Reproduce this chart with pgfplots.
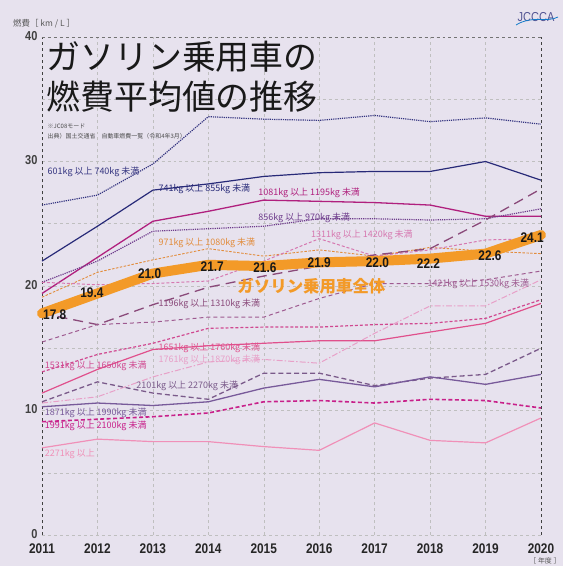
\documentclass[border=0pt]{standalone}
\usepackage{pgfplots}
\pgfplotsset{compat=1.18}
\usepackage{fontspec}
\setmainfont{Liberation Sans}
\newfontfamily\jp{Noto Sans CJK JP}
\newfontfamily\condb{Liberation Sans}[FakeStretch=0.85]
\definecolor{bgc}{RGB}{231,226,238}
\definecolor{navyA}{RGB}{52,52,128}
\definecolor{navyB}{RGB}{40,42,120}
\definecolor{magA}{RGB}{176,32,126}
\definecolor{purA}{RGB}{110,60,140}
\definecolor{orA}{RGB}{226,140,60}
\definecolor{orT}{RGB}{243,154,40}
\definecolor{pinkD}{RGB}{214,120,176}
\definecolor{mauveL}{RGB}{138,74,122}
\definecolor{mauveD}{RGB}{158,90,144}
\definecolor{pinkS}{RGB}{208,72,144}
\definecolor{pinkSol}{RGB}{224,80,140}
\definecolor{pinkDD}{RGB}{232,160,200}
\definecolor{grayP}{RGB}{122,90,138}
\definecolor{purS}{RGB}{120,90,154}
\definecolor{magD}{RGB}{200,32,138}
\definecolor{pinkL}{RGB}{240,144,184}
\pgfplotstableread{
year w601 w741 w1081 w856 w971 all w1311 w1196 w1421 w1531 w1651 w1761 w1871 w2101 w1991 w2271
2011 26.5 22.0 19.4 20.3 19.1 17.8 20.3 17.8 15.5 13.1 11.4 10.6 10.3 10.7 9.1 7.0
2012 27.3 24.8 22.3 22.0 21.1 19.4 20.1 16.9 16.9 14.5 13.3 11.1 10.6 12.3 9.3 7.7
2013 29.8 27.7 25.2 24.4 22.1 21.0 20.2 18.5 17.1 15.4 14.9 12.7 10.4 11.4 9.5 7.5
2014 33.6 28.2 26.0 24.6 23.0 21.7 20.4 19.9 17.5 16.6 15.2 13.9 10.7 10.9 9.8 7.5
2015 33.4 28.8 26.9 24.8 22.4 21.6 22.0 20.8 17.5 16.7 15.4 14.1 11.8 13.0 10.7 7.1
2016 33.3 29.1 26.8 25.4 22.9 21.9 23.8 21.6 19.0 16.7 15.6 13.8 12.5 13.0 10.8 6.8
2017 33.7 29.2 26.7 25.4 22.4 22.0 22.4 22.5 20.2 16.9 15.6 16.2 11.9 12.0 10.6 9.0
2018 33.2 29.2 26.5 25.3 23.1 22.2 22.9 23.0 20.2 17.0 16.3 18.4 12.7 12.6 10.9 7.6
2019 33.5 30.0 25.6 25.4 22.8 22.6 23.7 25.3 20.5 17.4 17.0 18.4 12.1 12.9 10.8 7.4
2020 33.0 28.5 25.6 26.2 22.6 24.1 23.8 27.8 21.2 18.9 18.6 20.5 12.9 15.0 10.2 9.4
}\datatable
\begin{document}
\begin{tikzpicture}
\fill[bgc] (-42bp,-31bp) rectangle (521bp,535bp);
\begin{axis}[
  at={(0,0)}, anchor=south west,
  scale only axis, width=499bp, height=498bp,
  xmin=2011, xmax=2020, ymin=0, ymax=40,
  xtick={2011,2012,...,2020}, ytick={0,10,20,30,40}, minor ytick={5,15,25,35},
  /pgf/number format/1000 sep={},
  /pgf/number format/assume math mode=true,
  xticklabel style={font=\condb\bfseries\fontsize{14}{14}\selectfont, text=black!85, yshift=-5bp},
  yticklabel style={font=\condb\bfseries\fontsize{13}{13}\selectfont, text=black!75, xshift=-1bp, yshift=1bp},
  grid=both,
  major grid style={dashed, draw=gray!50, line width=0.5pt},
  minor grid style={dashed, draw=gray!50, line width=0.5pt},
  major tick length=0pt, minor tick length=0pt,
  axis line style={draw=none},
  clip=false,
]
\draw[dashed, black!75, line width=0.7pt] (axis cs:2011,0) -- (axis cs:2011,40);
\draw[dashed, black!75, line width=0.7pt] (axis cs:2020,0) -- (axis cs:2020,40);
\draw[dashed, black!55, line width=0.6pt] (axis cs:2011,40) -- (axis cs:2020,40);

\addplot[navyA, densely dotted, line width=1.2pt] table[x=year,y=w601] {\datatable};
\addplot[navyB, line width=1.2pt] table[x=year,y=w741] {\datatable};
\addplot[magA, line width=1.3pt] table[x=year,y=w1081] {\datatable};
\addplot[purA, densely dotted, line width=1.2pt] table[x=year,y=w856] {\datatable};
\addplot[orA, dash pattern=on 2.5pt off 1.5pt, line width=0.9pt] table[x=year,y=w971] {\datatable};
\addplot[pinkD, dash pattern=on 3pt off 2pt, line width=1pt] table[x=year,y=w1311] {\datatable};
\addplot[mauveL, dash pattern=on 10pt off 6pt, line width=1.3pt] table[x=year,y=w1196] {\datatable};
\addplot[mauveD, dash pattern=on 4pt off 3pt, line width=1pt] table[x=year,y=w1421] {\datatable};
\addplot[pinkS, dash pattern=on 3pt off 2pt, line width=1.2pt] table[x=year,y=w1531] {\datatable};
\addplot[pinkSol, line width=1.2pt] table[x=year,y=w1651] {\datatable};
\addplot[pinkDD, dash pattern=on 6pt off 2pt on 1.5pt off 2pt, line width=1pt] table[x=year,y=w1761] {\datatable};
\addplot[grayP, dash pattern=on 5pt off 3pt, line width=1.3pt] table[x=year,y=w2101] {\datatable};
\addplot[purS, line width=1.3pt] table[x=year,y=w1871] {\datatable};
\addplot[magD, dash pattern=on 4pt off 2.5pt, line width=1.6pt] table[x=year,y=w1991] {\datatable};
\addplot[pinkL, line width=1.2pt] table[x=year,y=w2271] {\datatable};
\addplot[orT, line width=10bp, line cap=round, line join=round] table[x=year,y=all] {\datatable};

% title
\node[anchor=west, font=\jp\fontsize{34}{34}\selectfont, text=black!90, inner sep=0pt] at (axis cs:2011.08,38.4) {ガソリン乗用車の};
\node[anchor=west, font=\jp\fontsize{34}{34}\selectfont, text=black!90, inner sep=0pt] at (axis cs:2011.08,35.2) {燃費平均値の推移};
\node[anchor=west, font=\jp\fontsize{6}{6}\selectfont, text=black!70, inner sep=0pt] at (axis cs:2011.1,32.8) {※JC08モード};
\node[anchor=west, font=\jp\fontsize{6}{6}\selectfont, text=black!70, inner sep=0pt] at (axis cs:2011.1,32.0) {出典）国土交通省　自動車燃費一覧（令和4年3月）};

% series labels
\begin{scope}[every node/.style={anchor=west, inner sep=0pt, font=\jp\fontsize{9}{9}\selectfont}]
\node[text=navyA] at (axis cs:2011.1,29.2) {601kg 以上 740kg 未満};
\node[text=navyB] at (axis cs:2013.1,27.8) {741kg 以上 855kg 未満};
\node[text=magA] at (axis cs:2014.9,27.5) {1081kg 以上 1195kg 未満};
\node[text=purA] at (axis cs:2014.9,25.5) {856kg 以上 970kg 未満};
\node[text=orA] at (axis cs:2013.1,23.5) {971kg 以上 1080kg 未満};
\node[text=pinkD] at (axis cs:2015.85,24.1) {1311kg 以上 1420kg 未満};
\node[text=mauveL] at (axis cs:2013.1,18.6) {1196kg 以上 1310kg 未満};
\node[text=mauveD] at (axis cs:2017.95,20.2) {1421kg 以上 1530kg 未満};
\node[text=pinkSol] at (axis cs:2013.1,15.0) {1651kg 以上 1760kg 未満};
\node[text=pinkDD] at (axis cs:2013.1,14.1) {1761kg 以上 1870kg 未満};
\node[text=pinkS] at (axis cs:2011.05,13.6) {1531kg 以上 1650kg 未満};
\node[text=grayP] at (axis cs:2012.7,12.0) {2101kg 以上 2270kg 未満};
\node[text=purS] at (axis cs:2011.05,9.8) {1871kg 以上 1990kg 未満};
\node[text=magD] at (axis cs:2011.05,8.75) {1991kg 以上 2100kg 未満};
\node[text=pinkL] at (axis cs:2011.05,6.5) {2271kg 以上};
\end{scope}

% value labels on the overall line
\begin{scope}[every node/.style={inner sep=0pt, font=\condb\bfseries\fontsize{14}{14}\selectfont, text=black!90}]
\node at (axis cs:2011.23,17.67) {17.8};
\node at (axis cs:2011.9,19.44) {19.4};
\node at (axis cs:2012.94,21.0) {21.0};
\node at (axis cs:2014.07,21.53) {21.7};
\node at (axis cs:2015.02,21.45) {21.6};
\node at (axis cs:2016.0,21.85) {21.9};
\node at (axis cs:2017.05,21.85) {22.0};
\node at (axis cs:2017.97,21.77) {22.2};
\node at (axis cs:2019.08,22.4) {22.6};
\node at (axis cs:2019.84,23.9) {24.1};
\end{scope}
\node[inner sep=0pt, font=\jp\bfseries\fontsize{16.5}{16.5}\selectfont, text=orT] at (axis cs:2015.86,20.0) {ガソリン乗用車全体};
\end{axis}
\node[anchor=west, inner sep=0pt, font=\jp\fontsize{8.5}{8.5}\selectfont, text=black!65] at (-29bp,511bp) {燃費［ km / L ］};
\node[inner sep=0pt, font=\jp\fontsize{7}{7}\selectfont, text=black!65] at (503bp,-26bp) {［ 年度 ］};
\node[inner sep=0pt, font=\condb\fontsize{13}{13}\selectfont, text=navyB!80] at (494bp,518bp) {JCCCA};
\draw[cyan!60!blue, line width=0.8pt] (474bp,510bp) .. controls (490bp,520bp) and (505bp,512bp) .. (516bp,518bp);
\end{tikzpicture}
\end{document}
